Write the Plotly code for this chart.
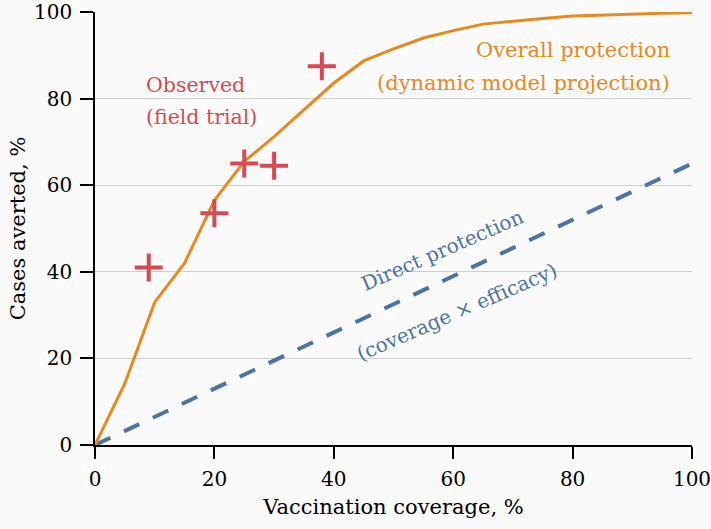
import plotly.graph_objects as go

coverage = [0, 5, 10, 15, 20, 25, 30, 35, 40, 45, 50, 55, 60, 65, 70, 75, 80, 85, 90, 95, 100]
overall = [0, 14.2, 33, 42, 56.5, 65.5, 71.2, 77.3, 83.6, 88.7, 91.5, 94, 95.7, 97.2, 97.9, 98.5, 99.1, 99.3, 99.6, 99.7, 99.8]
direct_x = [0, 100]
direct_y = [0, 65]
obs_x = [9, 20, 25, 30, 38]
obs_y = [41, 53.5, 65, 64.5, 87.5]

ORANGE = "#E8891F"
RED = "#D44A55"
BLUE = "#4B74A2"
FONT = "DejaVu Serif"

fig = go.Figure()
fig.add_trace(go.Scatter(x=direct_x, y=direct_y, mode="lines",
                         line=dict(color=BLUE, width=4, dash="17px,15px"),
                         cliponaxis=False, hoverinfo="skip"))
fig.add_trace(go.Scatter(x=coverage, y=overall, mode="lines",
                         line=dict(color=ORANGE, width=3),
                         cliponaxis=False, hoverinfo="skip"))
fig.add_trace(go.Scatter(x=obs_x, y=obs_y, mode="markers",
                         marker=dict(symbol="cross-thin", size=20, color=RED,
                                     line=dict(color=RED, width=4)),
                         cliponaxis=False, hoverinfo="skip"))

def ann(text, x, y, color, size, xanchor="center", angle=0):
    fig.add_annotation(x=x, y=y, xref="x", yref="y", text=text, showarrow=False,
                       xanchor=xanchor, yanchor="middle", textangle=angle,
                       font=dict(family=FONT, size=size, color=color))

ann("Observed", 8.2, 83.2, RED, 20.5, "left")
ann("(field trial)", 8.2, 75.8, RED, 20.5, "left")
ann("Overall protection", 96.7, 91.2, ORANGE, 21, "right")
ann("(dynamic model projection)", 96.7, 83.6, ORANGE, 21, "right")
ann("Direct protection", 58.2, 45.1, BLUE, 20, "center", -23.5)
ann("(coverage × efficacy)", 60.6, 30.8, BLUE, 20, "center", -23.5)

fig.update_layout(
    width=711, height=529,
    margin=dict(l=95, r=19, t=12, b=84),
    paper_bgcolor="#FAFAFA", plot_bgcolor="#FAFAFA",
    showlegend=False,
    font=dict(family=FONT, color="black"),
    xaxis=dict(range=[0, 100], tickvals=[0, 20, 40, 60, 80, 100],
               ticks="outside", ticklen=12, tickwidth=1.5, tickcolor="black",
               showline=True, linecolor="black", linewidth=1.5,
               showgrid=False, zeroline=False, automargin=False,
               ticklabeloverflow="allow", ticklabelstandoff=3,
               tickfont=dict(family=FONT, size=20, color="black"),
               title=dict(text="Vaccination coverage, %", standoff=10,
                          font=dict(family=FONT, size=21, color="black"))),
    yaxis=dict(range=[0, 100], tickvals=[0, 20, 40, 60, 80, 100],
               ticks="outside", ticklen=13, tickwidth=1.5, tickcolor="black",
               showline=True, linecolor="black", linewidth=1.5,
               showgrid=True, gridcolor="#CFCFCF", gridwidth=1, zeroline=False,
               automargin=False, ticklabeloverflow="allow", ticklabelstandoff=4,
               tickfont=dict(family=FONT, size=20, color="black"),
               title=dict(text="Cases averted, %", standoff=3,
                          font=dict(family=FONT, size=21, color="black"))),
)

fig.write_html("out.html", config={"displayModeBar": False},
               post_script="document.body.style.margin='0px';")
